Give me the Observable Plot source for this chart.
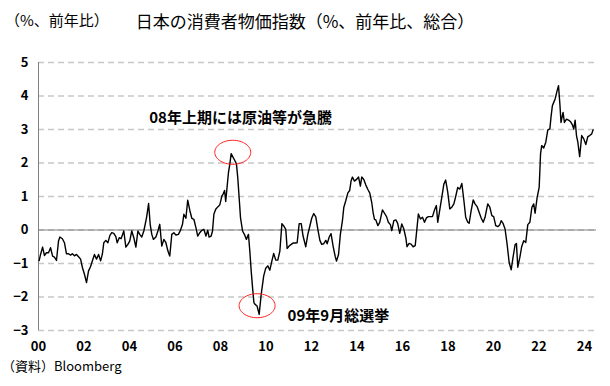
<!DOCTYPE html>
<html><head><meta charset="utf-8">
<script src="https://cdn.jsdelivr.net/npm/d3@7"></script>
<script src="https://cdn.jsdelivr.net/npm/@observablehq/plot@0.6"></script>
<style>
body{margin:0;background:#fff;}
#wrap{position:relative;width:610px;height:386px;font-family:"Noto Sans CJK JP",sans-serif;color:#000;}
.t{position:absolute;white-space:nowrap;line-height:1;}
</style></head><body>
<div id="wrap">
<div class="t" id="unit" style="left:5px;top:12px;font-size:15px;">（%、前年比）</div>
<div class="t" id="title" style="left:0;width:610px;text-align:center;top:12px;font-size:17px;">日本の消費者物価指数（%、前年比、総合）</div>
<div class="t" id="src" style="left:2px;top:359px;font-size:13px;">（資料）Bloomberg</div>
</div>
<script>
// Decimal-year positions and YoY CPI (%)
const dates = [
2000.03,2000.09,2000.18,2000.26,2000.35,2000.44,2000.53,2000.62,2000.70,2000.79,2000.88,2000.94,
2001.05,2001.14,2001.23,2001.32,2001.41,2001.49,2001.58,2001.67,2001.76,2001.85,2001.93,
2002.02,2002.11,2002.20,2002.29,2002.37,2002.46,2002.55,2002.64,2002.73,2002.81,2002.87,2002.96,
2003.05,2003.14,2003.22,2003.31,2003.40,2003.46,2003.55,2003.63,2003.75,2003.84,2003.93,
2004.01,2004.10,2004.19,2004.28,2004.37,2004.45,2004.54,2004.63,2004.75,2004.84,2004.91,2004.98,
2005.05,2005.16,2005.25,2005.33,2005.42,2005.51,2005.60,2005.69,2005.77,2005.86,2005.95,
2006.04,2006.15,2006.24,2006.33,2006.39,2006.48,2006.56,2006.65,2006.74,2006.83,2006.92,
2007.00,2007.09,2007.18,2007.27,2007.36,2007.44,2007.50,2007.59,2007.65,2007.71,2007.79,2007.88,2007.97,
2008.06,2008.12,2008.18,2008.23,2008.29,2008.35,2008.41,2008.47,2008.56,2008.64,2008.70,2008.76,2008.82,2008.88,2008.97,
2009.05,2009.14,2009.23,2009.29,2009.35,2009.41,2009.47,2009.52,2009.61,2009.70,2009.79,2009.90,2009.99,
2010.08,2010.17,2010.26,2010.34,2010.43,2010.52,2010.61,2010.70,2010.78,2010.87,2010.93,
2011.02,2011.11,2011.19,2011.28,2011.37,2011.46,2011.55,2011.63,2011.75,2011.84,2011.93,
2012.01,2012.10,2012.19,2012.28,2012.37,2012.45,2012.54,2012.63,2012.69,2012.78,2012.86,2012.95,
2013.04,2013.10,2013.19,2013.27,2013.36,2013.42,2013.51,2013.60,2013.68,2013.74,2013.80,2013.89,2013.98,
2014.07,2014.15,2014.21,2014.30,2014.39,2014.48,2014.56,2014.65,2014.71,2014.77,2014.83,2014.92,
2015.00,2015.12,2015.21,2015.30,2015.38,2015.47,2015.53,2015.62,2015.71,2015.79,2015.88,2015.97,
2016.06,2016.15,2016.20,2016.29,2016.38,2016.47,2016.56,2016.64,2016.70,2016.79,2016.88,2016.97,
2017.05,2017.14,2017.23,2017.32,2017.41,2017.49,2017.55,2017.64,2017.73,2017.82,2017.90,2017.99,
2018.08,2018.17,2018.26,2018.34,2018.43,2018.52,2018.61,2018.70,2018.78,2018.87,2018.93,
2019.02,2019.11,2019.19,2019.28,2019.37,2019.46,2019.55,2019.63,2019.72,2019.75,2019.84,2019.93,
2020.01,2020.10,2020.19,2020.28,2020.34,2020.42,2020.51,2020.60,2020.69,2020.78,2020.86,2020.95,
2021.01,2021.07,2021.16,2021.24,2021.33,2021.42,2021.51,2021.60,2021.69,2021.77,2021.83,2021.92,
2022.01,2022.07,2022.12,2022.21,2022.30,2022.39,2022.48,2022.53,2022.59,2022.65,2022.71,2022.80,2022.86,2022.92,2022.97,
2023.06,2023.12,2023.21,2023.30,2023.38,2023.47,2023.53,2023.59,2023.65,2023.71,2023.79,2023.88,2023.97,
2024.06,2024.15,2024.23,2024.32,2024.38
];
const cpi = [
-0.91,-0.73,-0.51,-0.76,-0.68,-0.68,-0.53,-0.78,-0.81,-0.91,-0.33,-0.21,
-0.26,-0.38,-0.71,-0.71,-0.75,-0.71,-0.77,-0.73,-0.80,-0.87,-1.12,
-1.32,-1.57,-1.22,-1.09,-0.92,-0.73,-0.87,-0.73,-0.92,-0.71,-0.38,-0.31,
-0.38,-0.16,-0.08,-0.10,-0.20,-0.38,-0.23,-0.26,-0.03,-0.51,-0.43,
-0.33,-0.03,-0.23,-0.51,-0.03,-0.13,-0.21,-0.03,0.37,0.79,0.17,-0.13,
-0.28,-0.21,-0.03,0.17,-0.48,-0.28,-0.38,-0.63,-0.78,-0.13,-0.08,
-0.15,-0.13,-0.01,0.17,0.47,0.35,0.89,0.59,0.35,0.32,0.07,
-0.18,-0.08,-0.01,0.02,-0.18,-0.01,-0.21,-0.18,-0.03,0.47,0.62,0.69,0.75,
1.01,1.08,1.18,0.85,1.28,1.71,1.96,2.28,2.16,2.06,1.98,1.56,0.97,0.37,-0.03,
-0.13,-0.28,-0.13,-0.63,-1.22,-1.72,-2.17,-2.22,-2.27,-2.52,-1.92,-1.37,-1.14,
-1.07,-1.20,-0.92,-0.70,-0.90,-0.90,-0.63,0.19,0.12,0.02,-0.55,
-0.48,-0.43,-0.39,-0.39,-0.38,0.19,0.19,-0.18,-0.50,-0.13,0.12,
0.35,0.49,0.39,0.02,-0.31,-0.43,-0.41,-0.31,-0.41,-0.21,-0.11,-0.48,
-0.78,-0.93,-0.73,-0.13,0.27,0.67,0.88,1.11,1.18,1.46,1.58,1.46,1.51,
1.58,1.31,1.58,1.51,1.34,1.21,1.11,0.82,0.52,0.32,0.30,0.13,
0.23,0.60,0.50,0.40,0.23,0.16,-0.02,0.28,0.30,0.20,-0.10,0.18,
0.03,-0.24,-0.50,-0.40,-0.42,-0.50,-0.47,0.07,0.48,0.33,0.38,0.23,
0.36,0.40,0.40,0.40,0.60,0.73,0.23,0.60,0.98,1.37,1.49,1.13,
0.63,0.68,0.78,1.00,1.27,1.22,1.39,0.88,0.38,0.23,0.20,
0.58,0.90,0.78,0.70,0.53,0.36,0.23,0.38,0.68,0.78,0.68,0.43,
0.40,0.13,0.10,0.16,0.28,0.20,0.03,-0.42,-0.97,-1.19,-0.82,-0.44,
-0.40,-1.11,-0.82,-0.50,-0.32,-0.37,0.16,0.23,0.68,0.78,0.50,0.97,
1.27,2.27,2.52,2.45,2.62,2.99,3.02,3.37,3.71,3.81,3.91,4.16,4.31,3.76,3.21,
3.51,3.21,3.31,3.28,3.24,3.14,3.01,3.28,2.82,2.62,2.19,2.82,2.72,
2.55,2.79,2.82,2.87,2.99
];
const xTickYears = [2000,2002,2004,2006,2008,2010,2012,2014,2016,2018,2020,2022,2024];
const yTicks = [-3,-2,-1,0,1,2,3,4,5];
const noteText = ["08年上期には原油等が急騰", "09年9月総選挙"];
const noteX = [2012.9, 2010.95];
const noteY = [3.33, -2.57];
const noteAnchor = ["end", "start"];
const circleX = [2008.54, 2009.61];
const circleY = [2.32, -2.26];

const rows = dates.map((t, i) => ({t, v: cpi[i]}));
const notes = noteText.map((text, i) => ({text, x: noteX[i], y: noteY[i], a: noteAnchor[i]}));
const circles = circleX.map((x, i) => ({x, y: circleY[i]}));

const ellipseSymbol = {
  draw(ctx) {
    const rx = 18, ry = 12, n = 60;
    for (let k = 0; k <= n; k++) {
      const a = 2 * Math.PI * k / n;
      const px = rx * Math.cos(a), py = ry * Math.sin(a);
      if (k === 0) ctx.moveTo(px, py); else ctx.lineTo(px, py);
    }
    ctx.closePath();
  }
};

const chart = Plot.plot({
  width: 610,
  height: 386,
  marginLeft: 38,
  marginRight: 14,
  marginTop: 62,
  marginBottom: 56,
  style: {fontFamily: '"Noto Sans CJK JP", sans-serif', fontSize: "13px", color: "#000", background: "transparent"},
  x: {domain: [2000, 2024.53], label: null},
  y: {domain: [-3, 5], label: null},
  marks: [
    Plot.gridY(yTicks, {stroke: "#c8c8c8", strokeOpacity: 1, strokeWidth: 1.5, strokeDasharray: "6,4"}),
    Plot.ruleY([0], {stroke: "#808080", strokeWidth: 1}),
    Plot.ruleX([2000], {stroke: "#808080", strokeWidth: 1}),
    Plot.axisY({ticks: yTicks, tickSize: 0, tickPadding: 10, label: null, fontWeight: "bold", tickFormat: d => d < 0 ? "\u2212" + Math.abs(d) : String(d)}),
    Plot.axisX({ticks: xTickYears, tickSize: 0, tickPadding: 11, label: null, fontWeight: "bold", tickFormat: d => String(d % 100).padStart(2, "0")}),
    Plot.line(rows, {x: "t", y: "v", stroke: "#000", strokeWidth: 1.4}),
    Plot.dot(circles, {x: "x", y: "y", symbol: ellipseSymbol, r: 10, stroke: "#ff2020", strokeWidth: 1, fill: "none"}),
    Plot.text(notes, {x: "x", y: "y", text: "text", textAnchor: "start", filter: d => d.a === "start", fontWeight: "bold", fontSize: 15}),
    Plot.text(notes, {x: "x", y: "y", text: "text", textAnchor: "end", filter: d => d.a === "end", fontWeight: "bold", fontSize: 15})
  ]
});
chart.style.position = "absolute";
chart.style.left = "0";
chart.style.top = "0";
document.getElementById("wrap").prepend(chart);
</script>
</body></html>
